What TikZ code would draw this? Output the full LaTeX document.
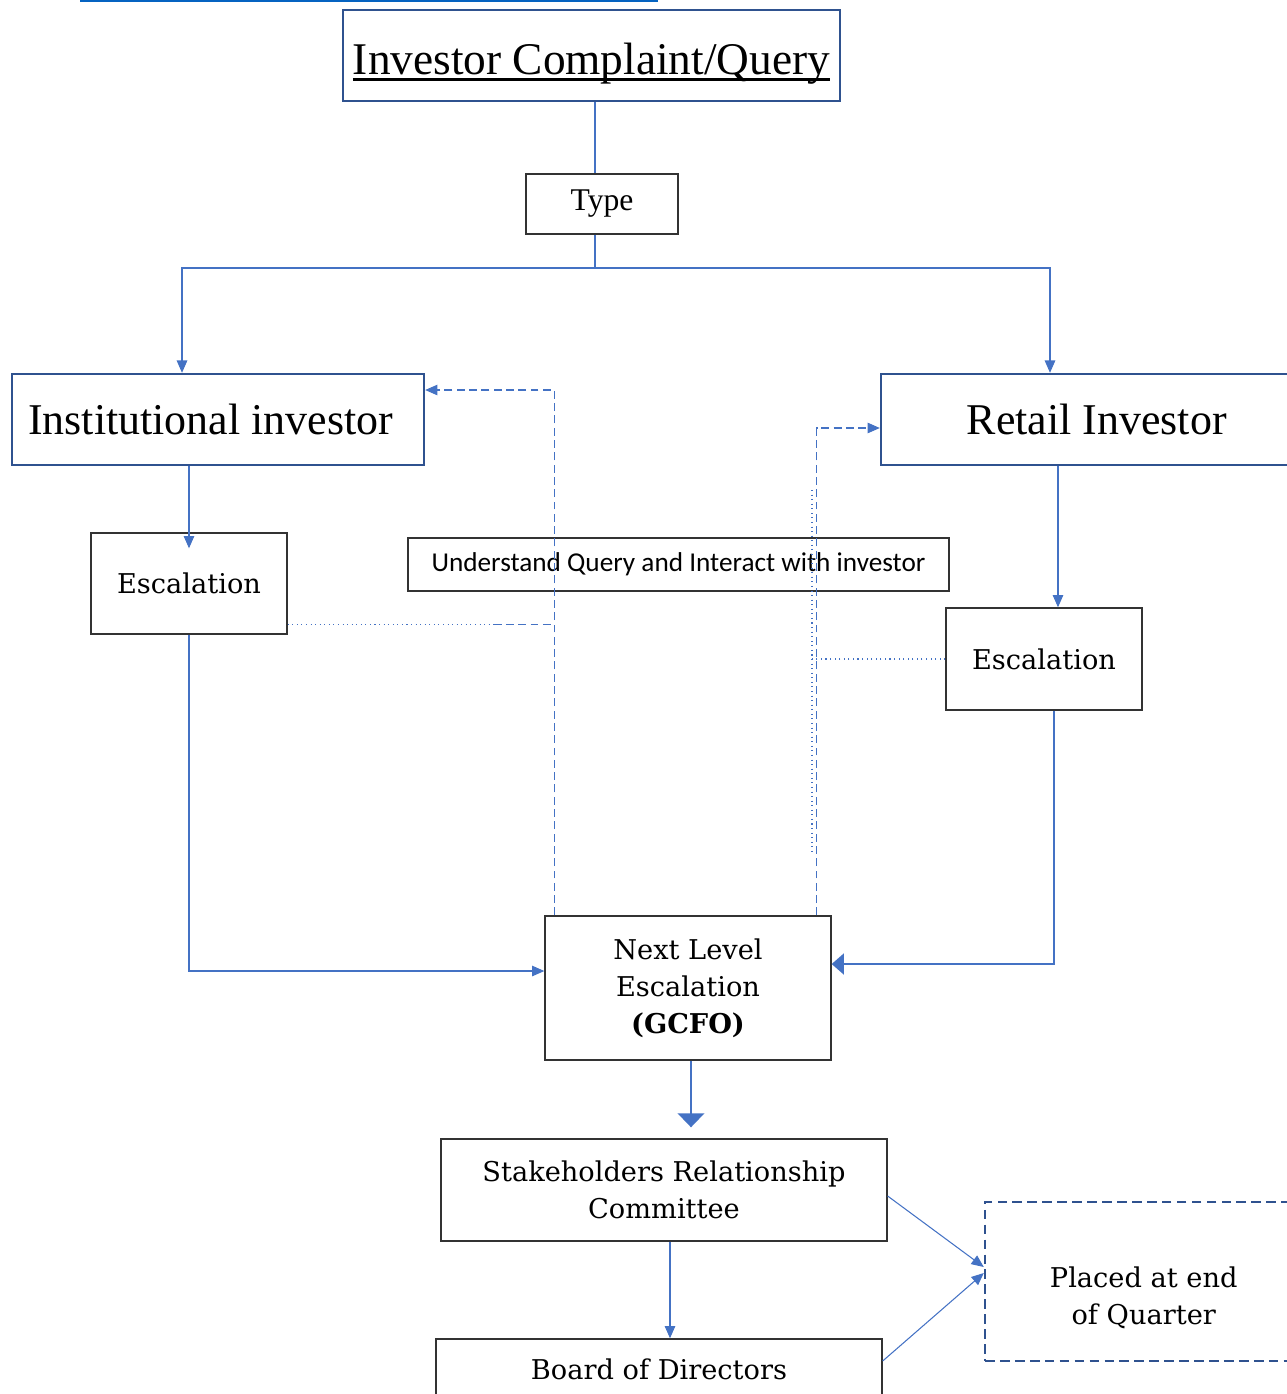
\documentclass[tikz,border=0pt]{standalone}
\usepackage{fontspec}
\setmainfont{Liberation Serif}
\newfontfamily\bookfont{DejaVu Serif}
\newfontfamily\calfont{Carlito}
\usetikzlibrary{arrows.meta}
\definecolor{lineblue}{HTML}{4472C4}
\definecolor{boxblue}{HTML}{2F528F}
\definecolor{linkblue}{HTML}{0563C1}
\newcommand\heavyul[1]{\setbox0=\hbox{#1}\leavevmode\rlap{\rule[-3.6pt]{\wd0}{1.6pt}}\box0}

\begin{document}
\begin{tikzpicture}[x=0.02cm, y=-0.02cm,
  plainbox/.style={draw=black!80, line width=0.8pt, align=center, inner sep=0pt, font=\bookfont\fontsize{15.5}{21}\selectfont},
  bluebox/.style={draw=boxblue, line width=1.4pt, inner sep=0pt, font=\fontsize{25}{30}\selectfont},
  conn/.style={draw=lineblue, line width=0.6pt},
  arr/.style={conn, -{Triangle[width=6pt,length=7pt]}},
  dashline/.style={conn, dash pattern=on 4.5pt off 2.5pt},
  fb/.style={dashline, -{Triangle[width=6pt,length=7pt]}},
  dotline/.style={conn, dotted}]
\useasboundingbox (0,0) rectangle (1287,1394);
\draw[linkblue, line width=1.2pt] (80,0.5) -- (658,0.5);

\node[bluebox, font=\fontsize{25.8}{30}\selectfont, minimum width=9.94cm, minimum height=1.82cm] (icq) at (591.5,55.5) {\raisebox{-4.5pt}[\height][\depth]{\heavyul{Investor Complaint/Query}}};
\node[plainbox, font=\fontsize{18}{22}\selectfont, minimum width=3.04cm, minimum height=1.2cm] (type) at (602,204) {Type};
\node[bluebox, minimum width=8.24cm, minimum height=1.82cm] (inst) at (218,419.5) {Institutional investor\hspace*{0.3cm}};
\node[bluebox, minimum width=8.18cm, minimum height=1.82cm] (retail) at (1085.5,419.5) {\hspace*{0.45cm}Retail Investor};
\node[plainbox, minimum width=3.92cm, minimum height=2.02cm] (escl) at (189,583.5) {Escalation};
\node[plainbox, font=\calfont\fontsize{15.5}{19}\selectfont, minimum width=10.82cm, minimum height=1.06cm] (und) at (678.5,564.5) {Understand Query and Interact with investor};
\node[plainbox, minimum width=3.92cm, minimum height=2.04cm] (escr) at (1044,659) {Escalation};
\node[plainbox, minimum width=5.72cm, minimum height=2.88cm] (nle) at (688,988) {Next Level\\Escalation\\\textbf{(GCFO)}};
\node[plainbox, minimum width=8.92cm, minimum height=2.04cm] (src) at (664,1190) {Stakeholders Relationship\\Committee};
\node[plainbox, minimum width=8.92cm, minimum height=1.2cm] (bod) at (659,1369) {Board of Directors};
\node[plainbox, draw=boxblue, line width=1.4pt, dash pattern=on 5.5pt off 3pt, minimum width=6.1cm, minimum height=3.18cm] (placed) at (1137.5,1281.5) {\raisebox{-9.5pt}[\height][\depth]{\begin{tabular}{@{}c@{}}\hspace*{0.25cm}Placed at end\\\hspace*{0.25cm}of Quarter\end{tabular}}};

\coordinate (split) at (595,268);
\draw[conn] (icq.south -| split) -- (type.north -| split);
\draw[conn] (type.south -| split) -- (split);
\draw[arr] (split) -| ([xshift=-0.72cm]inst.north);
\draw[arr] (split) -| ([xshift=-0.71cm]retail.north);
\draw[arr] (escl.north |- inst.south) -- ([yshift=-0.32cm]escl.north);
\coordinate (rdrop) at ([xshift=0.28cm]escr.north);
\draw[arr] (rdrop |- retail.south) -- (rdrop);
\draw[arr] (escl.south) |- ([yshift=0.34cm]nle.west);
\draw[conn, line width=1.1pt, -{Triangle[width=12pt,length=7pt]}] ([xshift=0.2cm]escr.south) |- ([yshift=0.48cm]nle.east);
\draw[conn, line width=1.7pt, -{Triangle[width=15pt,length=8pt]}, shorten >=0.22cm] ([xshift=0.06cm]nle.south) -- ([xshift=0.06cm]nle.south |- src.north);
\coordinate (bdrop) at ([xshift=0.22cm]bod.north);
\draw[arr] (bdrop |- src.south) -- (bdrop);
\draw[arr] ([yshift=-0.12cm]src.east) -- ([yshift=0.29cm]placed.west);
\draw[arr] ([yshift=0.16cm]bod.east) -- ([yshift=0.17cm]placed.west);

\coordinate (lfb) at ([xshift=0.2cm]nle.north west);
\draw[fb] (lfb) |- ([yshift=0.59cm]inst.east);
\coordinate (lesc) at ([yshift=-0.82cm]escl.east);
\draw[dotline] (lesc) -- ++(206,0) coordinate (lmid);
\draw[dashline] (lmid) -- (lesc -| lfb);
\coordinate (rfb) at ([xshift=-0.3cm]nle.north east);
\draw[fb] (rfb) |- ([yshift=-0.17cm]retail.west);
\coordinate (rtop) at (812,490);
\coordinate (rbot) at (812,852);
\draw[dotline] (rtop) -- (rbot);
\draw[dotline] (escr.west) -- (escr.west -| rtop);
\end{tikzpicture}
\end{document}
